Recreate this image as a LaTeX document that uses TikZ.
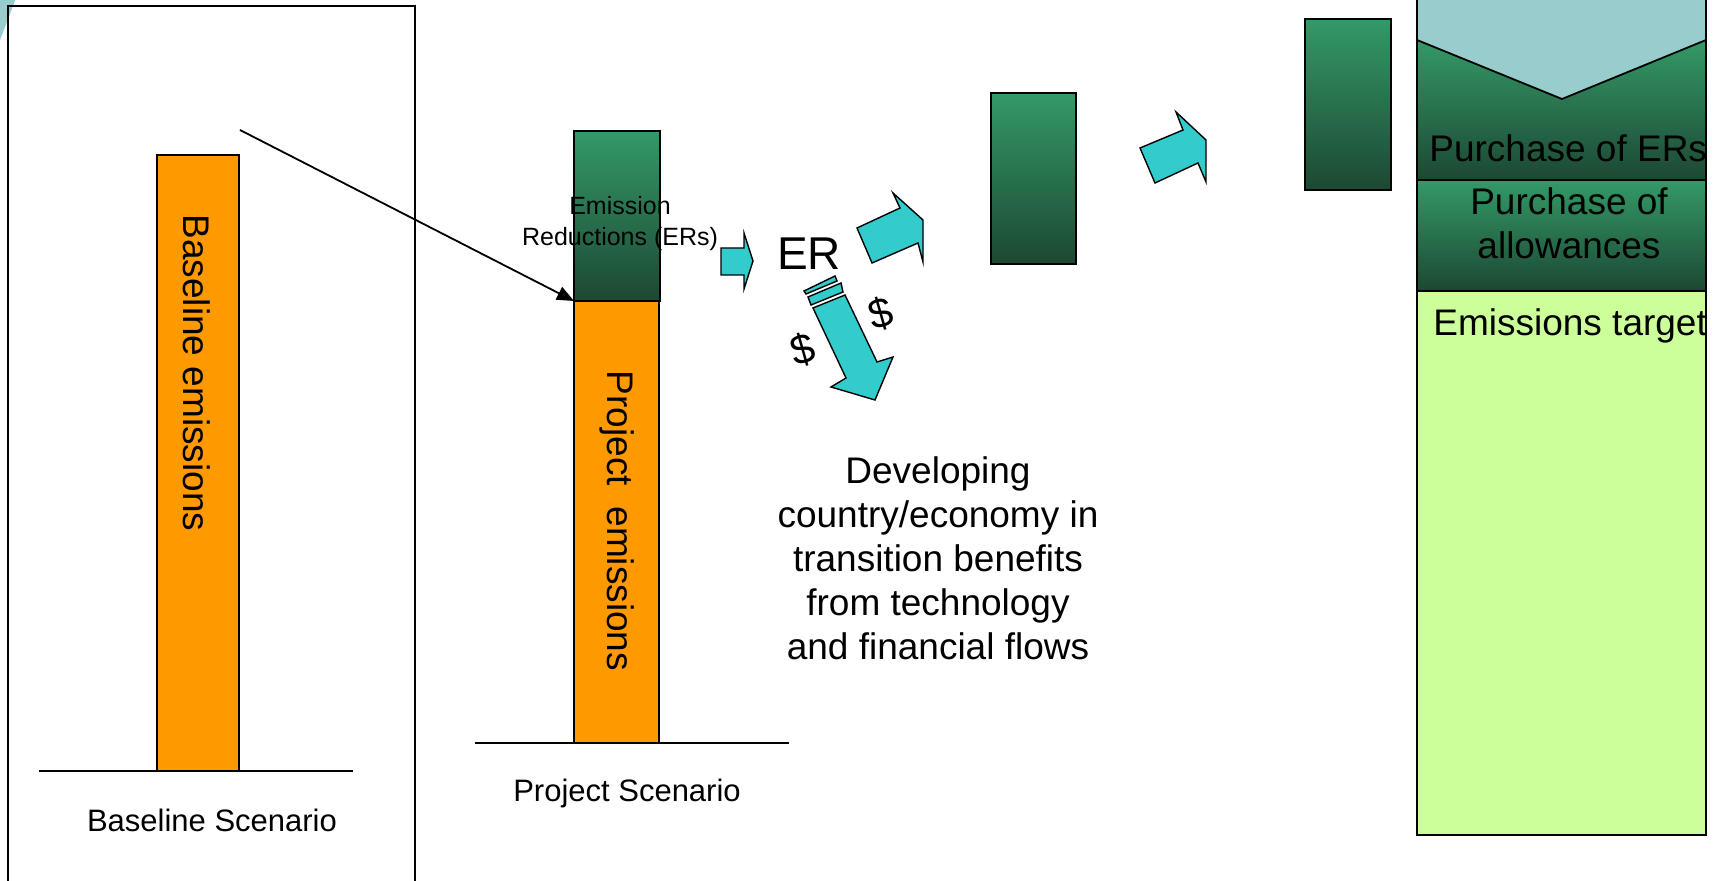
\documentclass[tikz,border=0pt]{standalone}
\usepackage{fontspec}
\setmainfont{Liberation Sans}
\usepackage{tikz}
\usepackage{xcolor}
\usetikzlibrary{arrows.meta}

\definecolor{barorange}{HTML}{FF9900}
\definecolor{ergreen}{HTML}{349968}
\definecolor{ermid}{HTML}{2B7D55}
\definecolor{erdark}{HTML}{1C4832}
\definecolor{arrowcyan}{HTML}{33CCCC}
\definecolor{ringblue}{HTML}{99CCCC}
\definecolor{targetgreen}{HTML}{CCFF99}

\begin{document}
\begin{tikzpicture}[x=0.5pt,y=-0.5pt,
    emisbar/.style={draw=black,line width=0.9pt,fill=barorange},
    erbar/.style={draw=black,line width=0.9pt,top color=ergreen,middle color=ermid,bottom color=erdark},
    blockarrow/.style={draw=black,line width=0.7pt,fill=arrowcyan},
    txt/.style={inner sep=0pt,align=center,font=\fontsize{18.5}{22}\selectfont},
    scen/.style={inner sep=0pt,font=\fontsize{15.5}{18}\selectfont},
    dollar/.style={inner sep=0pt,rotate=16,font=\fontsize{21}{25}\selectfont}]

  \useasboundingbox (0,0) rectangle (1719,881);
  \clip (0,0) rectangle (1719,881);

  % corner of the slide ring
  \fill[ringblue] (0,-2) -- (16,-2) .. controls (10,14) .. (0,40) -- cycle;

  % baseline scenario
  \draw[line width=1pt] (8,6) rectangle (415,900);
  \draw[emisbar] (157,155) rectangle (239,771);
  \draw[line width=0.9pt] (39,771) -- (353,771);
  \node[txt,rotate=-90] (baseem) at (197,373) {Baseline emissions};
  \node[scen] (basescen) at (212,820) {Baseline Scenario};

  % project scenario
  \draw[emisbar] (574,301) rectangle (659,743);
  \draw[erbar] (574,131) rectangle (660,301);
  \coordinate (arrstart) at (240,130);
  \coordinate (projtop) at (574,301);
  \draw[line width=0.9pt,-{Triangle[length=8.5pt,width=7pt]}] (arrstart) -- (projtop);
  \node[txt,rotate=-90] (projem) at (617,521) {Project~ emissions};
  \draw[line width=0.9pt] (475,743) -- (789,743);
  \node[scen] (projscen) at (627,793) {Project Scenario};
  \node[inner sep=0pt,align=center,font=\fontsize{12.5}{15.5}\selectfont] (ers) at (620,224)
    {Emission\\Reductions (ERs)};

  % flows
  \draw[blockarrow] (721,248) -- (744,248) -- (744,233) -- (753,261) -- (744,289)
    -- (744,275) -- (721,275) -- cycle;
  \node[inner sep=0pt,font=\fontsize{23}{27}\selectfont] (er) at (809,254) {ER};
  \draw[blockarrow] (857,228) -- (900,208) -- (893,193) -- (923,220) -- (923,262)
    -- (918,243) -- (872,263) -- cycle;
  \draw[blockarrow] (804,291) -- (835,276) -- (837,281) -- (806,294) -- cycle;
  \draw[blockarrow] (808,297) -- (841,283) -- (843,292) -- (811,305) -- cycle;
  \draw[blockarrow] (813,308) -- (845,295) -- (877,362) -- (893,357) -- (875,400)
    -- (831,387) -- (846,378) -- cycle;
  \node[dollar] (dolleft) at (803,350) {\$};
  \node[dollar] (dolright) at (881,314) {\$};
  \node[txt] (benefit) at (938,558)
    {Developing\\country/economy in\\transition benefits\\from technology\\and financial flows};

  % buyer side
  \draw[erbar] (991,93) rectangle (1076,264);
  \draw[blockarrow] (1140,148) -- (1183,130) -- (1176,112) -- (1206,140) -- (1206,182)
    -- (1198,163) -- (1155,183) -- cycle;
  \draw[erbar] (1305,19) rectangle (1391,190);

  % emissions target column
  \fill[ringblue] (1417,-5) -- (1706,-5) -- (1706,40) -- (1562,99) -- (1417,40) -- cycle;
  \shade[top color=ergreen,middle color=ermid,bottom color=erdark]
    (1417,40) -- (1562,99) -- (1706,40) -- (1706,180) -- (1417,180) -- cycle;
  \draw[line width=0.9pt] (1417,40) -- (1562,99) -- (1706,40);
  \draw[erbar] (1417,180) rectangle (1706,291);
  \draw[line width=0.9pt,fill=targetgreen] (1417,291) rectangle (1706,835);
  \draw[line width=1.1pt] (1417,-5) rectangle (1706,835);
  \begin{scope}
    \clip (1417,0) rectangle (1706,835);
    \node[txt,anchor=west] (ersbuy) at (1429,148) {Purchase of ERs};
    \node[txt,anchor=west] (target) at (1433,326) {Emissions target};
  \end{scope}
  \node[txt] (allow) at (1569,223) {Purchase of\\allowances};
\end{tikzpicture}
\end{document}
